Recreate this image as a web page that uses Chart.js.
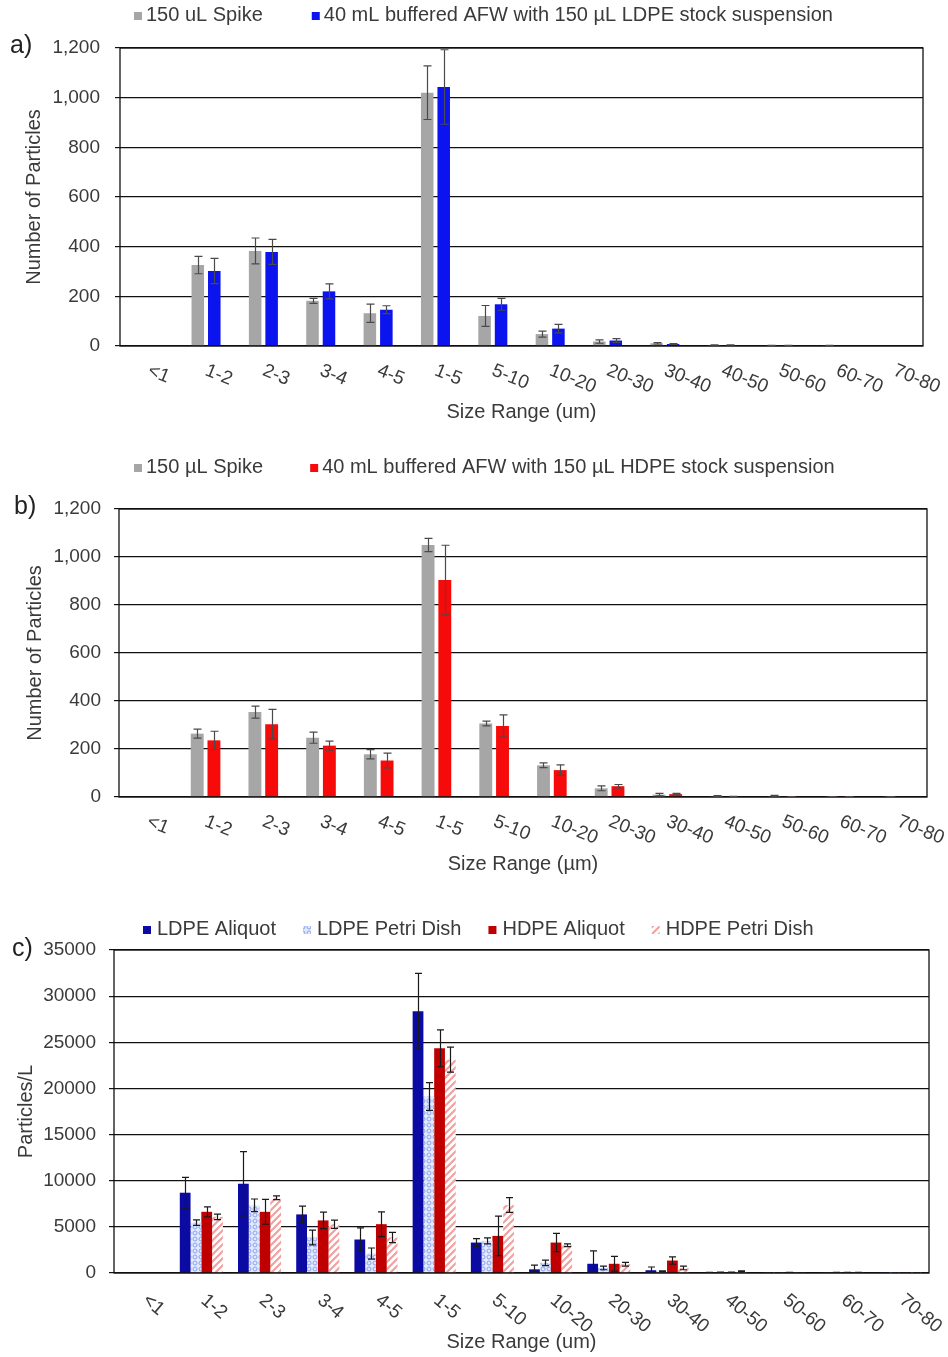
<!DOCTYPE html>
<html>
<head>
<meta charset="utf-8">
<script src="https://cdn.jsdelivr.net/npm/chart.js@4.4.1/dist/chart.umd.min.js"></script>
<style>
  html, body { margin: 0; padding: 0; background: #fff; }
  #wrap { position: relative; width: 948px; height: 1357px; overflow: hidden; }
  canvas { position: absolute; left: 0; }
</style>
</head>
<body>
<div id="wrap">
  <canvas id="panelA" width="948" height="440" style="top:0px"></canvas>
  <canvas id="panelB" width="948" height="440" style="top:450px"></canvas>
  <canvas id="panelC" width="948" height="457" style="top:900px"></canvas>
</div>
<script>
// Size classes (µm) shared by all three panels
const sizeRanges = ['<1', '1-2', '2-3', '3-4', '4-5', '1-5', '5-10', '10-20', '20-30', '30-40', '40-50', '50-60', '60-70', '70-80'];

// Panel a: LDPE spike vs. buffered AFW recovery (particle counts)
const spikeLdpe      = [0, 326, 383, 182, 132, 1020, 121, 48, 18, 11, 4, 2, 1.5, 0];
const spikeLdpeErr   = [0, 35, 52, 10, 37, 108, 42, 12, 7, 3, 1, 1, 1, 0];
const afwLdpe        = [0, 302, 379, 220, 146, 1043, 168, 70, 22, 8, 4, 2, 0, 0];
const afwLdpeErr     = [0, 51, 50, 30, 16, 150, 24, 17, 8, 2, 1, 1, 0, 0];

// Panel b: HDPE spike vs. buffered AFW recovery (particle counts)
const spikeHdpe      = [0, 264, 354, 247, 178, 1050, 306, 132, 36, 10, 4, 4, 1, 1];
const spikeHdpeErr   = [0, 19, 25, 23, 19, 28, 10, 10, 10, 5, 2, 3, 1, 1];
const afwHdpe        = [0, 236, 303, 214, 152, 904, 296, 112, 45, 12, 2, 1, 1, 0];
const afwHdpeErr     = [0, 38, 62, 19, 31, 145, 46, 22, 7, 3, 1, 1, 1, 0];

// Panel c: particles per litre
const ldpeAliquot    = [0, 8700, 9680, 6350, 3630, 28370, 3300, 400, 1000, 300, 50, 30, 30, 10];
const ldpeAliquotErr = [0, 1670, 3480, 900, 1260, 4100, 420, 450, 1400, 350, 30, 20, 20, 10];
const ldpePetri      = [0, 5450, 7330, 3850, 2110, 19130, 3480, 1100, 550, 180, 60, 30, 40, 10];
const ldpePetriErr   = [0, 300, 690, 800, 600, 1500, 320, 300, 200, 60, 40, 20, 20, 10];
const hdpeAliquot    = [0, 6630, 6630, 5700, 5290, 24350, 4020, 3300, 1000, 1350, 60, 40, 50, 20];
const hdpeAliquotErr = [0, 540, 1350, 900, 1340, 2000, 2140, 1000, 800, 400, 40, 20, 30, 10];
const hdpePetri      = [0, 6090, 8150, 5290, 3850, 23120, 7360, 3000, 950, 550, 180, 30, 40, 20];
const hdpePetriErr   = [0, 300, 200, 450, 550, 1350, 800, 150, 200, 200, 60, 20, 30, 10];

const FONT = '"Liberation Sans", Arial, sans-serif';
const TEXT = '#3a3a3a';
Chart.defaults.font.family = FONT;
Chart.defaults.font.size = 19;
Chart.defaults.color = TEXT;

// Fill patterns for the petri-dish series
function dotPattern() {
  const c = document.createElement('canvas');
  c.width = 6; c.height = 6;
  const g = c.getContext('2d');
  g.fillStyle = '#e2e9fd';
  g.fillRect(0, 0, 6, 6);
  g.strokeStyle = '#8aa2f0';
  g.lineWidth = 1;
  g.beginPath();
  g.arc(3, 3, 2, 0, Math.PI * 2);
  g.stroke();
  return g.createPattern(c, 'repeat');
}
function stripePattern() {
  const s = 7;
  const c = document.createElement('canvas');
  c.width = s; c.height = s;
  const g = c.getContext('2d');
  g.fillStyle = '#ffffff';
  g.fillRect(0, 0, s, s);
  g.strokeStyle = '#f3a0a0';
  g.lineWidth = 2.2;
  g.beginPath();
  g.moveTo(0, s); g.lineTo(s, 0);
  g.moveTo(-1, 1); g.lineTo(1, -1);
  g.moveTo(s - 1, s + 1); g.lineTo(s + 1, s - 1);
  g.stroke();
  return g.createPattern(c, 'repeat');
}

// Frame, error bars, slanted category labels, legend row and panel letter
const panelDecor = {
  id: 'panelDecor',
  afterDatasetsDraw(chart, args, o) {
    const ctx = chart.ctx;
    const a = chart.chartArea;
    const ys = chart.scales.y;
    ctx.save();
    // plot frame
    ctx.strokeStyle = '#111';
    ctx.lineWidth = 1.3;
    ctx.strokeRect(a.left, a.top, a.right - a.left, a.bottom - a.top);
    // error bars
    ctx.beginPath();
    ctx.rect(a.left, a.top - 2, a.right - a.left, a.bottom - a.top + 2);
    ctx.clip();
    ctx.strokeStyle = o.errColor;
    ctx.lineWidth = 1.2;
    chart.data.datasets.forEach((ds, di) => {
      const meta = chart.getDatasetMeta(di);
      meta.data.forEach((bar, i) => {
        const v = ds.data[i];
        const e = ds.errors[i];
        if (!v && !e) return;
        const x = Math.round(bar.x) + 0.5;
        const yt = ys.getPixelForValue(v + e);
        const yb = ys.getPixelForValue(Math.max(v - e, 0));
        ctx.beginPath();
        ctx.moveTo(x, yt); ctx.lineTo(x, yb);
        ctx.moveTo(x - o.cap, yt); ctx.lineTo(x + o.cap, yt);
        ctx.moveTo(x - o.cap, yb); ctx.lineTo(x + o.cap, yb);
        ctx.stroke();
      });
    });
    ctx.restore();
  },
  afterDraw(chart, args, o) {
    const ctx = chart.ctx;
    const a = chart.chartArea;
    const xs = chart.scales.x;
    ctx.save();
    ctx.fillStyle = TEXT;
    // slanted category labels
    ctx.font = '19px ' + FONT;
    ctx.textAlign = 'left';
    ctx.textBaseline = 'middle';
    chart.data.labels.forEach((lab, i) => {
      ctx.save();
      ctx.translate(xs.getPixelForValue(i) + o.tickDx, a.bottom + o.tickDy);
      ctx.rotate(o.tickAngle * Math.PI / 180);
      ctx.fillText(lab, 0, 0);
      ctx.restore();
    });
    // legend row
    ctx.font = '20px ' + FONT;
    let x = o.legendX;
    const ly = o.legendY;
    chart.data.datasets.forEach((ds) => {
      ctx.fillStyle = ds.backgroundColor;
      ctx.fillRect(x, ly - o.box / 2 + 1, o.box, o.box);
      ctx.fillStyle = TEXT;
      const tx = x + o.box + o.textGap;
      ctx.fillText(ds.label, tx, ly);
      x = tx + ctx.measureText(ds.label).width + o.itemGap;
    });
    // panel letter
    ctx.font = '25px ' + FONT;
    ctx.fillStyle = '#222';
    ctx.fillText(o.letter, o.letterX, o.letterY);
    ctx.restore();
  }
};

function makePanel(id, cfg) {
  return new Chart(document.getElementById(id), {
    type: 'bar',
    data: { labels: sizeRanges, datasets: cfg.datasets },
    options: {
      responsive: false,
      animation: false,
      devicePixelRatio: 1,
      layout: { padding: { top: cfg.area.top, right: cfg.canvasW - cfg.area.right, left: 0, bottom: 0 } },
      datasets: { bar: { categoryPercentage: cfg.catPct, barPercentage: cfg.barPct, borderWidth: 0 } },
      plugins: {
        legend: { display: false },
        tooltip: { enabled: false },
        panelDecor: cfg.decor
      },
      scales: {
        x: {
          grid: { display: false },
          border: { display: false },
          ticks: { display: false },
          title: { display: true, text: cfg.xTitle, font: { size: 20 }, color: TEXT,
                   padding: { top: 0, bottom: cfg.xTitlePad } },
          afterFit(s) { s.height = cfg.canvasH - cfg.area.bottom; }
        },
        y: {
          min: 0, max: cfg.yMax,
          grid: { color: '#111', lineWidth: 1.2, tickLength: 5, drawTicks: true },
          border: { display: false },
          ticks: { stepSize: cfg.yStep, padding: cfg.yTickPad, color: TEXT, font: { size: 19 },
                   callback: cfg.yFormat },
          title: { display: true, text: cfg.yTitle, font: { size: 20 }, color: TEXT,
                   padding: { top: cfg.yTitlePad, bottom: 0 } },
          afterFit(s) { s.width = cfg.area.left; }
        }
      }
    },
    plugins: [panelDecor]
  });
}

const withComma = (v) => v.toLocaleString('en-US');
const plain = (v) => String(v);

makePanel('panelA', {
  canvasW: 948, canvasH: 440,
  area: { left: 120, right: 923, top: 48, bottom: 346 },
  catPct: 0.575, barPct: 0.76,
  yMax: 1200, yStep: 200, yFormat: withComma, yTickPad: 15, yTitlePad: 22,
  yTitle: 'Number of Particles', xTitle: 'Size Range (um)', xTitlePad: 16,
  datasets: [
    { label: '150 uL Spike', data: spikeLdpe, errors: spikeLdpeErr, backgroundColor: '#a6a6a6' },
    { label: '40 mL buffered AFW with 150 µL LDPE stock suspension', data: afwLdpe, errors: afwLdpeErr, backgroundColor: '#0b14ee' }
  ],
  decor: { errColor: '#4a4a4a', cap: 4, tickAngle: 22, tickDx: 0, tickDy: 24,
           legendX: 134, legendY: 15, box: 8, textGap: 4, itemGap: 49,
           letter: 'a)', letterX: 10, letterY: 46 }
});

makePanel('panelB', {
  canvasW: 948, canvasH: 440,
  area: { left: 119, right: 927, top: 59, bottom: 347 },
  catPct: 0.58, barPct: 0.77,
  yMax: 1200, yStep: 200, yFormat: withComma, yTickPad: 13, yTitlePad: 23,
  yTitle: 'Number of Particles', xTitle: 'Size Range (µm)', xTitlePad: 14,
  datasets: [
    { label: '150 µL Spike', data: spikeHdpe, errors: spikeHdpeErr, backgroundColor: '#a6a6a6' },
    { label: '40 mL buffered AFW with 150 µL HDPE stock suspension', data: afwHdpe, errors: afwHdpeErr, backgroundColor: '#f60a0a' }
  ],
  decor: { errColor: '#4a4a4a', cap: 4, tickAngle: 22, tickDx: 0, tickDy: 24,
           legendX: 134, legendY: 17, box: 8, textGap: 4, itemGap: 47,
           letter: 'b)', letterX: 14, letterY: 57 }
});

makePanel('panelC', {
  canvasW: 948, canvasH: 457,
  area: { left: 114, right: 929, top: 50, bottom: 373 },
  catPct: 0.74, barPct: 1.0,
  yMax: 35000, yStep: 5000, yFormat: plain, yTickPad: 13, yTitlePad: 14,
  yTitle: 'Particles/L', xTitle: 'Size Range (um)', xTitlePad: 3,
  datasets: [
    { label: 'LDPE Aliquot', data: ldpeAliquot, errors: ldpeAliquotErr, backgroundColor: '#0b0ba3' },
    { label: 'LDPE Petri Dish', data: ldpePetri, errors: ldpePetriErr, backgroundColor: dotPattern() },
    { label: 'HDPE Aliquot', data: hdpeAliquot, errors: hdpeAliquotErr, backgroundColor: '#c00000' },
    { label: 'HDPE Petri Dish', data: hdpePetri, errors: hdpePetriErr, backgroundColor: stripePattern() }
  ],
  decor: { errColor: '#1a1a1a', cap: 3.5, tickAngle: 40, tickDx: 2, tickDy: 25,
           legendX: 143, legendY: 29, box: 8, textGap: 6, itemGap: 27,
           letter: 'c)', letterX: 12, letterY: 49 }
});
</script>
</body>
</html>
